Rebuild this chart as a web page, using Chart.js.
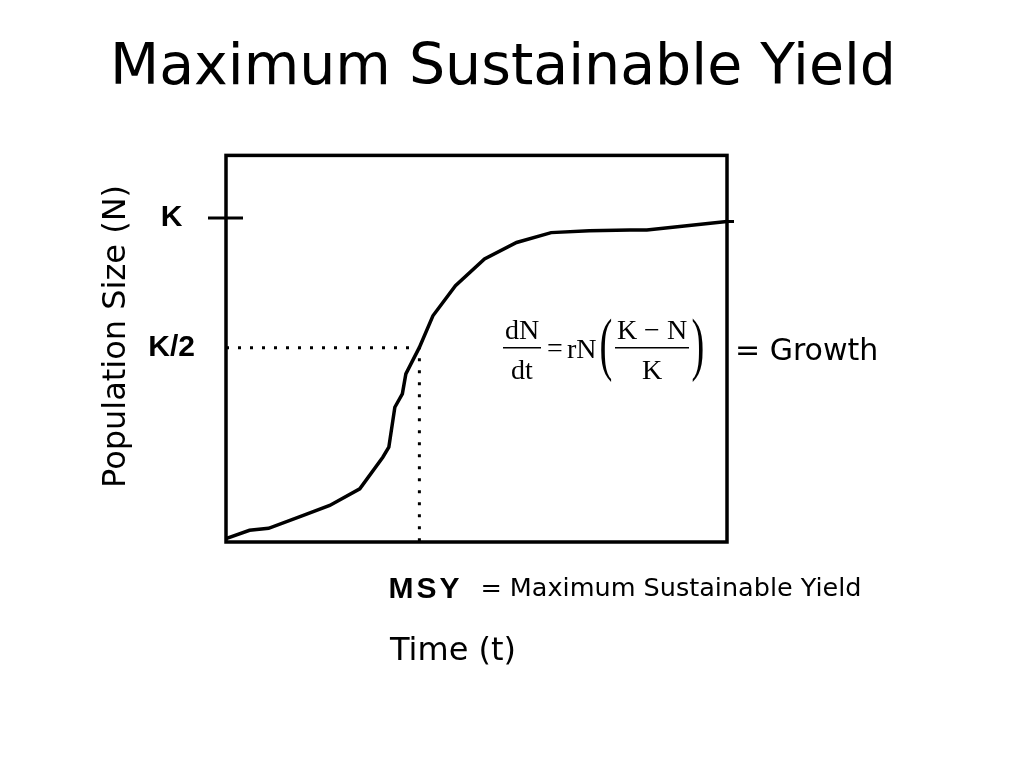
<!DOCTYPE html>
<html>
<head>
<meta charset="utf-8">
<title>Maximum Sustainable Yield</title>
<script src="https://cdn.jsdelivr.net/npm/chart.js@4.4.1/dist/chart.umd.min.js"></script>
<style>
  html, body { margin: 0; padding: 0; background: #fff; }
  #wrap { width: 1024px; height: 768px; }
</style>
</head>
<body>
<div id="wrap"><canvas id="myChart" width="1024" height="768"></canvas></div>
<script>
// 時間 t (0-100) と個体数 N (K = 100 として読み取り)
const timeValues = [0, 4.7, 8.5, 15.3, 20.7, 26.7, 31.3, 32.5, 33.7, 35.2, 35.9, 38.6, 41.3, 45.8, 51.6, 58.0, 64.9, 72.5, 80.6, 84.0, 90.1, 96.2, 100]
const popValues = [-23.7, -20.5, -19.7, -14.8, -10.9, -4.5, 7.7, 11.6, 27, 32.2, 39.9, 50.1, 62.3, 73.9, 84.2, 90.6, 94.4, 95.1, 95.4, 95.4, 96.7, 97.9, 98.7]

// y 軸の目盛り
const yTickValues = [50, 100]
const yTickLabels = ['K/2', 'K']

// MSY の位置
const msyTime = 38.6
const halfK = 50
const yMin = -25
const yMax = 124.2

const curve = timeValues.map((t, i) => ({ x: t, y: popValues[i] }))
const msyGuide = [
  { x: 0, y: halfK },
  { x: msyTime, y: halfK },
  { x: msyTime, y: yMin },
]

const comic = '"DejaVu Sans", sans-serif'
const serif = '"Liberation Serif", "Times New Roman", serif'

// 枠線、K の目盛り線、式と注記
const annotations = {
  id: 'annotations',
  afterDatasetsDraw(chart) {
    const { ctx, chartArea: a, scales: { x, y } } = chart
    ctx.save()
    ctx.strokeStyle = '#000'
    ctx.fillStyle = '#000'
    ctx.lineWidth = 3.5
    ctx.strokeRect(a.left, a.top, a.right - a.left, a.bottom - a.top)

    // K の目盛り（枠の内外に伸びる）
    ctx.lineWidth = 3
    const kY = y.getPixelForValue(100)
    ctx.beginPath()
    ctx.moveTo(a.left - 18, kY)
    ctx.lineTo(a.left + 17, kY)
    ctx.stroke()

    // 右端の目盛り
    const endY = y.getPixelForValue(popValues[popValues.length - 1])
    ctx.beginPath()
    ctx.moveTo(a.right, endY)
    ctx.lineTo(a.right + 7, endY)
    ctx.stroke()

    // 式 dN/dt = rN((K-N)/K)
    const eqX = a.left + 277
    const midY = y.getPixelForValue(halfK)
    ctx.font = '28px ' + serif
    ctx.textBaseline = 'alphabetic'
    ctx.textAlign = 'center'
    ctx.fillText('dN', eqX + 19, midY - 9)
    ctx.fillText('dt', eqX + 19, midY + 31)
    ctx.lineWidth = 1.5
    ctx.beginPath()
    ctx.moveTo(eqX, midY)
    ctx.lineTo(eqX + 38, midY)
    ctx.stroke()
    ctx.fillText('=', eqX + 52, midY + 9)
    ctx.textAlign = 'left'
    ctx.fillText('rN', eqX + 64, midY + 10)
    ctx.textAlign = 'center'
    ctx.fillText('K \u2212 N', eqX + 149, midY - 9)
    ctx.fillText('K', eqX + 149, midY + 31)
    ctx.beginPath()
    ctx.moveTo(eqX + 112, midY)
    ctx.lineTo(eqX + 186, midY)
    ctx.stroke()
    ctx.font = '70px ' + serif
    ctx.save()
    ctx.translate(eqX + 103, midY + 19)
    ctx.scale(0.55, 1)
    ctx.fillText('(', 0, 0)
    ctx.restore()
    ctx.save()
    ctx.translate(eqX + 195, midY + 19)
    ctx.scale(0.55, 1)
    ctx.fillText(')', 0, 0)
    ctx.restore()

    ctx.textAlign = 'left'
    ctx.font = '30px ' + comic
    ctx.fillText('= Growth', a.right + 8, midY + 12)

    // MSY の注記
    const msyX = x.getPixelForValue(msyTime)
    ctx.font = 'bold 30px "Liberation Sans", Arial, sans-serif'
    ctx.letterSpacing = '3px'
    ctx.fillText('MSY', msyX - 31, a.bottom + 56)
    ctx.letterSpacing = '0px'
    ctx.font = '25.5px ' + comic
    ctx.fillText('= Maximum Sustainable Yield', msyX + 61, a.bottom + 54)

    // 軸タイトル
    ctx.font = '32px ' + comic
    ctx.fillText('Time (t)', a.left + 164, a.bottom + 118)
    ctx.save()
    ctx.translate(a.left - 101, a.bottom - 54)
    ctx.rotate(-Math.PI / 2)
    ctx.fillText('Population Size (N)', 0, 0)
    ctx.restore()

    ctx.restore()
  },
}

const ctx = document.getElementById('myChart').getContext('2d')
const myChart = new Chart(ctx, {
  type: 'line',
  data: {
    datasets: [
      {
        label: 'N',
        data: curve,
        borderColor: '#000',
        borderWidth: 3.5,
        pointRadius: 0,
        tension: 0,
        fill: false,
      },
      {
        label: 'MSY',
        data: msyGuide,
        borderColor: '#000',
        borderWidth: 3,
        borderDash: [3, 9],
        borderCapStyle: 'butt',
        pointRadius: 0,
        tension: 0,
        fill: false,
      },
    ],
  },
  options: {
    responsive: false,
    animation: false,
    layout: { padding: { left: 0, right: 18, top: 0, bottom: 0 } },
    plugins: {
      legend: { display: false },
      tooltip: { enabled: false },
      title: {
        display: true,
        text: 'Maximum Sustainable Yield',
        color: '#000',
        font: { family: comic, size: 57, weight: 'normal' },
        padding: { top: 35, bottom: 52 },
      },
    },
    scales: {
      x: {
        type: 'linear',
        min: 0,
        max: 100,
        grid: { display: false },
        border: { display: false },
        ticks: { display: false },
        afterFit: (s) => { s.height = 226 },
      },
      y: {
        type: 'linear',
        min: yMin,
        max: yMax,
        bounds: 'data',
        grid: { display: false, drawTicks: false },
        border: { display: false },
        afterBuildTicks: (s) => { s.ticks = yTickValues.map((v) => ({ value: v })) },
        ticks: {
          color: '#000',
          crossAlign: 'center',
          padding: 31,
          font: { family: '"Liberation Sans", Arial, sans-serif', size: 30, weight: 'bold' },
          callback: (v) => yTickLabels[yTickValues.indexOf(v)],
        },
        afterFit: (s) => { s.width = 226 },
      },
      y2: {
        type: 'linear',
        position: 'right',
        grid: { display: false },
        border: { display: false },
        ticks: { display: false },
        afterFit: (s) => { s.width = 279 },
      },
    },
  },
  plugins: [annotations],
})
</script>
</body>
</html>
